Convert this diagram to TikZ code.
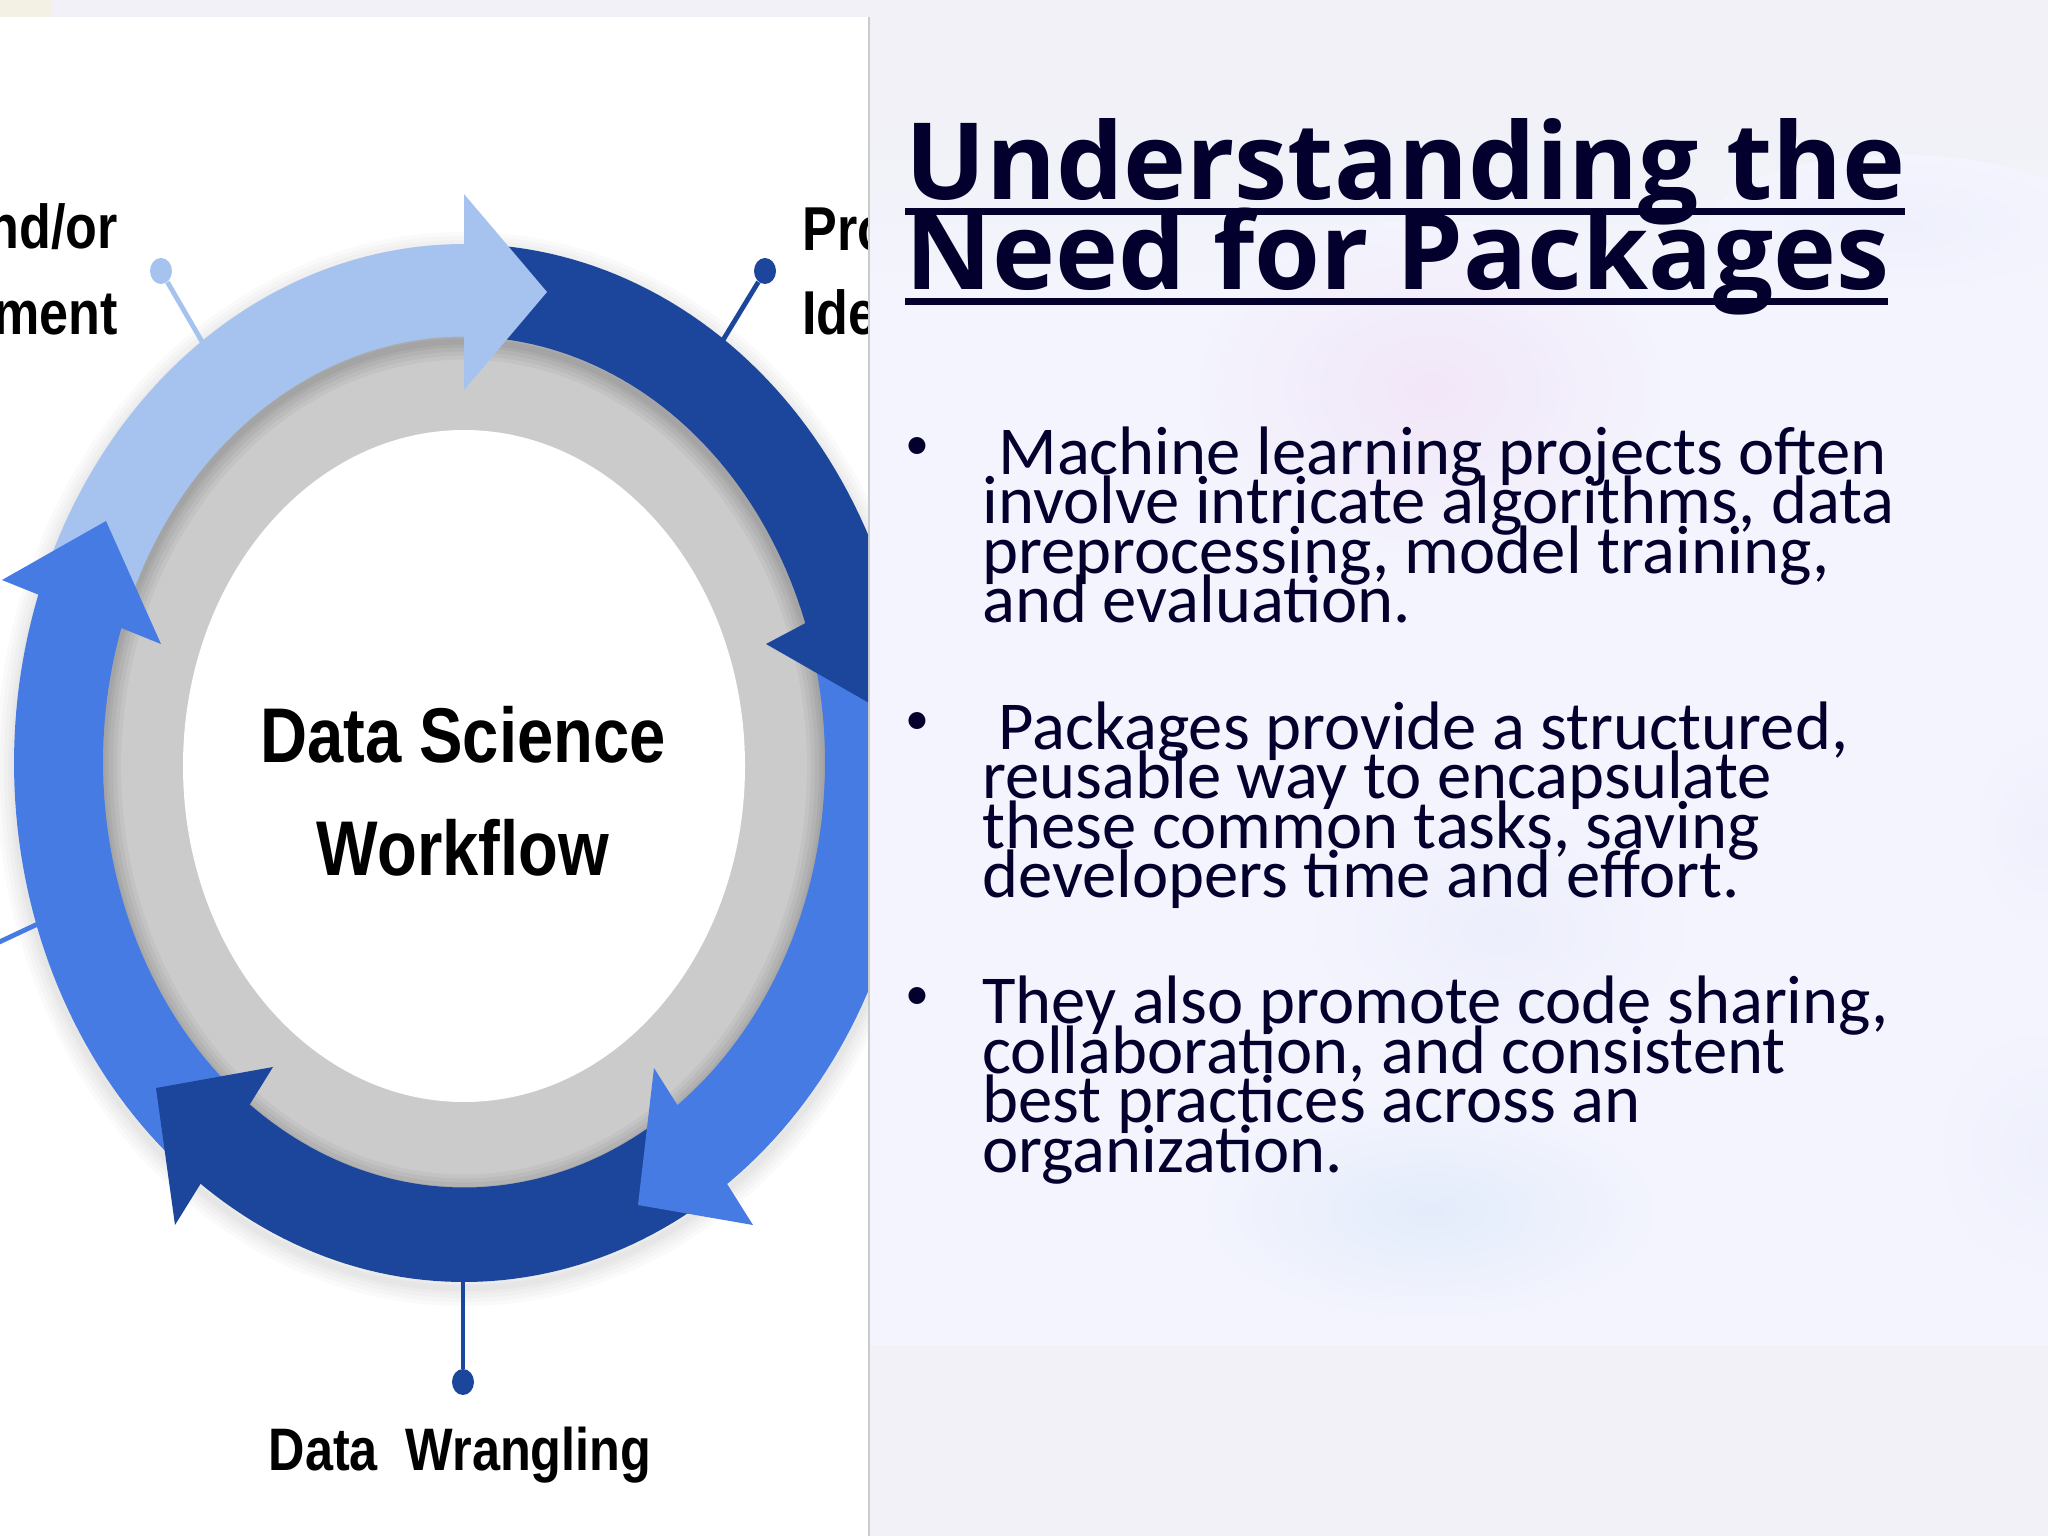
\documentclass[tikz,border=0pt]{standalone}
\usepackage{fontspec}
\setmainfont{Carlito}
\newfontfamily\titlefont{Open Sans}
\newfontfamily\flowfont[FakeStretch=0.84]{Liberation Sans}
\usetikzlibrary{calc,shapes.geometric}

\definecolor{slidebg}{HTML}{F1F1F7}
\definecolor{panelbg}{HTML}{F3F4FD}
\definecolor{cornerbg}{HTML}{F3F1E3}
\definecolor{navy}{HTML}{03002E}
\definecolor{bandLight}{HTML}{A6C3EF}
\definecolor{bandMid}{HTML}{467BE4}
\definecolor{bandDark}{HTML}{1C469C}
\definecolor{ringgray}{HTML}{CBCBCB}
\definecolor{blobblue}{HTML}{E3ECFB}
\definecolor{blobpink}{HTML}{F2E6F8}
\definecolor{bloblav}{HTML}{EAECFB}

\begin{document}
\begin{tikzpicture}[x=0.5pt, y=-0.5pt]
\useasboundingbox (0,0) rectangle (2048,1536);
\tikzset{titleline/.style={anchor=base west, inner sep=0, text=navy, font=\titlefont\bfseries\fontsize{53.3}{60}\selectfont}}
\tikzset{titlerule/.style={navy, line width=3.5pt}}
\tikzset{bodyline/.style={anchor=base west, inner sep=0, text=navy, font=\fontsize{34.3}{30}\selectfont}}
\tikzset{bulletmark/.style={anchor=base, inner sep=0, text=navy, font=\fontsize{24}{30}\selectfont}}
\tikzset{flowbig/.style={anchor=base, inner sep=0, font=\flowfont\bfseries\fontsize{38.8}{40}\selectfont}}
\tikzset{flowsmall/.style={inner sep=0, font=\flowfont\bfseries\fontsize{31}{40}\selectfont}}
\tikzset{stub/.style={line width=2.4pt}}
\tikzset{stubdot/.style={ellipse, inner sep=0, minimum width=11pt, minimum height=13pt}}

\newcommand{\bandarc}[3]{
\fill[#1] plot[domain=#2:#3, samples=50] ({464+450*cos(\x)},{763-519*sin(\x)})
  -- plot[domain=#3:#2, samples=50] ({464+361*cos(\x)},{762-425.5*sin(\x)}) -- cycle;
}
\newcommand{\parablock}[6]{
\node[bodyline] (#1a) at (982,#2) {#3};
\node[bodyline] (#1b) at (982,#2+49.6) {#4};
\node[bodyline] (#1c) at (982,#2+99.2) {#5};
\node[bodyline] (#1d) at (982,#2+148.8) {#6};
\node[bulletmark] (#1dot) at (917,#2-14.5) {•};
}

% slide background
\fill[slidebg] (0,0) rectangle (2048,1536);
\fill[cornerbg] (0,0) rectangle (52,17);
\shade[top color=slidebg, bottom color=panelbg] (869,120) rectangle (2048,300);
\fill[panelbg] (869,300) rectangle (2048,1345);
\shade[inner color=bloblav!50!panelbg, outer color=panelbg] (1900,225) ellipse [x radius=190, y radius=70];
\shade[inner color=blobpink, outer color=panelbg] (1430,390) ellipse [x radius=240, y radius=170];
\shade[inner color=bloblav!70!panelbg, outer color=panelbg] (1500,930) ellipse [x radius=200, y radius=130];
\shade[inner color=blobblue, outer color=panelbg] (1430,1210) ellipse [x radius=230, y radius=110];
\shade[inner color=bloblav!50!panelbg, outer color=panelbg] (2040,1150) ellipse [x radius=110, y radius=130];
\shade[inner color=bloblav!50!panelbg, outer color=panelbg] (2040,830) ellipse [x radius=70, y radius=100];

% photo on the left, cut at its edges
\begin{scope}
\clip (0,17) rectangle (869,1536);
\fill[white] (0,17) rectangle (869,1536);
\fill[ringgray] (464,762) ellipse [x radius=400, y radius=470];
\fill[white] (464,766) ellipse [x radius=281, y radius=336];
\foreach \w in {36,28,20,12,6} {
  \draw[black, opacity=0.04, line width=\w*0.5pt] (464,767) ellipse [x radius=361, y radius=425.5];
  \draw[black, opacity=0.02, line width=\w*0.5pt] (464,769) ellipse [x radius=450, y radius=519];
}

% stubs
\node[stubdot, fill=bandLight] (dotlight) at (161,271) {};
\node[stubdot, fill=bandDark] (dotdark) at (765,271) {};
\node[stubdot, fill=bandDark] (dotbottom) at (463,1382) {};
\coordinate (footlight) at (204,345);
\coordinate (footdark) at (720,345);
\coordinate (footbottom) at (463,1275);
\coordinate (footmid) at (42,922);
\coordinate (edgemid) at (-5,944);
\draw[stub, bandLight] (dotlight) -- (footlight);
\draw[stub, bandDark] (dotdark) -- (footdark);
\draw[stub, bandDark] (dotbottom) -- (footbottom);
\draw[stub, bandMid] (edgemid) -- (footmid);

% the five arrows of the ring
\bandarc{bandDark}{88}{15}
\bandarc{bandLight}{158}{90}
\fill[bandLight] (464,194) -- (547,292) -- (464,390) -- cycle;
\bandarc{bandMid}{-130}{-200}
\fill[bandMid] (106,521) -- (2,580) -- (161,644) -- cycle;
\bandarc{bandDark}{-58}{-128}
\fill[bandDark] (273,1067) -- (156,1088) -- (175,1225) -- cycle;
\bandarc{bandMid}{15}{-55}
\fill[bandMid] (654,1068) -- (638,1205) -- (753,1225) -- cycle;
\fill[bandDark] (766,644) -- (960,755) -- (1000,520) -- cycle;

\node[flowbig] (science) at (463,762) {Data Science};
\node[flowbig] (workflow) at (463,875) {Workflow};
\node[flowsmall, anchor=base, font=\flowfont\bfseries\fontsize{30}{40}\selectfont] (wrangling) at (460,1470) {Data\ \ Wrangling};
\node[flowsmall, anchor=base east] (andor) at (118,248) {nd/or};
\node[flowsmall, anchor=base east] (ment) at (118,334) {ment};
\node[flowsmall, anchor=base west] (pro) at (802,250) {Pro};
\node[flowsmall, anchor=base west] (ide) at (802,334) {Ide};
\end{scope}
\draw[ringgray, line width=0.6pt] (869,17) -- (869,1536);

% title
\node[titleline] (titleA) at (905,199) {Understanding the};
\node[titleline] (titleB) at (905,289) {Need for Packages};
\draw[titlerule] ($(titleA.base west)+(0,12)$) -- ($(titleA.base east)+(-1,12)$);
\draw[titlerule] ($(titleB.base west)+(0,12)$) -- ($(titleB.base east)+(-2,12)$);

% bullets
\parablock{first}{474}{\hspace*{8pt}Machine learning projects often}{involve intricate algorithms, data}{preprocessing, model training,}{and evaluation.}
\parablock{second}{749}{\hspace*{8pt}Packages provide a structured,}{reusable way to encapsulate}{these common tasks, saving}{developers time and effort.}
\parablock{third}{1023.5}{They also promote code sharing,}{collaboration, and consistent}{best practices across an}{organization.}
\end{tikzpicture}
\end{document}
